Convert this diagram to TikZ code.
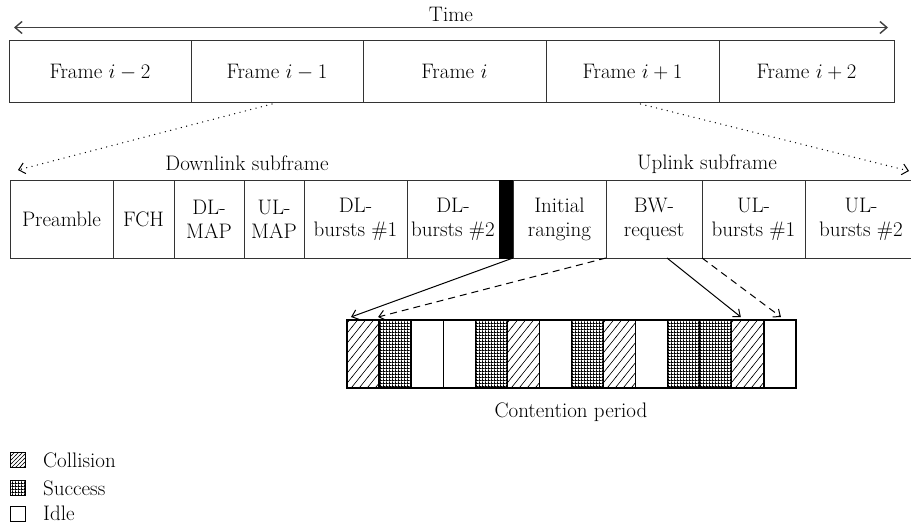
\documentclass[tikz,border=0pt]{standalone}
\usetikzlibrary{arrows.meta,patterns,calc}
\pgfdeclarepatternformonly{densegrid}{\pgfqpoint{0pt}{0pt}}{\pgfqpoint{3.2pt}{3.2pt}}{\pgfqpoint{3.2pt}{3.2pt}}{%
  \pgfpathrectangle{\pgfqpoint{0pt}{0pt}}{\pgfqpoint{3.2pt}{1.05pt}}%
  \pgfpathrectangle{\pgfqpoint{0pt}{0pt}}{\pgfqpoint{1.05pt}{3.2pt}}%
  \pgfusepath{fill}}
\pgfdeclarepatternformonly{widehatch}{\pgfqpoint{-1pt}{-1pt}}{\pgfqpoint{9pt}{11pt}}{\pgfqpoint{8pt}{10pt}}{%
  \pgfsetlinewidth{0.6pt}%
  \pgfpathmoveto{\pgfqpoint{-0.8pt}{-1pt}}\pgfpathlineto{\pgfqpoint{8.8pt}{11pt}}%
  \pgfusepath{stroke}}
\pgfdeclarepatternformonly{smallhatch}{\pgfqpoint{-1pt}{-1pt}}{\pgfqpoint{5pt}{5pt}}{\pgfqpoint{4pt}{4pt}}{%
  \pgfsetlinewidth{0.5pt}%
  \pgfpathmoveto{\pgfqpoint{-0.5pt}{-0.5pt}}\pgfpathlineto{\pgfqpoint{4.5pt}{4.5pt}}%
  \pgfusepath{stroke}}
\begin{document}
\begin{tikzpicture}[x=1pt,y=-1pt,
  font=\fontsize{21}{24}\selectfont,
  framebox/.style={draw=black!80, line width=1pt, minimum height=62.5pt, inner sep=0pt, outer sep=0pt, anchor=north west},
  cellbox/.style={draw=black!80, line width=1pt, minimum height=78pt, inner sep=0pt, outer sep=0pt, anchor=north west, align=center},
  slotbox/.style={draw=black, line width=1.3pt, minimum height=68pt, minimum width=32.07pt, inner sep=0pt, outer sep=0pt, anchor=north west},
  slot-c/.style={slotbox, pattern=widehatch},
  slot-s/.style={slotbox, pattern=densegrid},
  slot-i/.style={slotbox},
  legbox/.style={draw=black, line width=0.9pt, minimum width=15pt, minimum height=15pt, inner sep=0pt},
  timearrow/.style={draw=black!75, line width=1.4pt, {Straight Barb[length=7pt,width=12pt]}-{Straight Barb[length=7pt,width=12pt]}},
  dotarrow/.style={draw=black, line width=1.4pt, dash pattern=on 0.01pt off 5.5pt, line cap=round, -{Straight Barb[length=6pt,width=11pt,line width=1pt]}},
  solidarr/.style={draw=black, line width=1pt, -{Straight Barb[length=6pt,width=10pt]}},
  dasharr/.style={draw=black, line width=1pt, dash pattern=on 7pt off 5pt, -{Straight Barb[length=6pt,width=10pt]}}
]
\useasboundingbox (0,0) rectangle (911,527);

% time axis
\coordinate (tl) at (14,27.5);
\coordinate (tr) at (888,27.5);
\draw[timearrow] (tl) -- (tr);
\node (time) at (451,14) {Time};

% frames
\node[framebox, minimum width=182pt] (f1) at (9,40.5) {Frame $i-2$};
\node[framebox, minimum width=172pt] (f2) at (191,40.5) {Frame $i-1$};
\node[framebox, minimum width=183pt] (f3) at (363,40.5) {Frame $i$};
\node[framebox, minimum width=173pt] (f4) at (546,40.5) {Frame $i+1$};
\node[framebox, minimum width=175pt] (f5) at (719,40.5) {Frame $i+2$};

% subframe row
\node[cellbox, minimum width=103pt] (pre) at (10,180) {Preamble};
\node[cellbox, minimum width=61pt] (fch) at (113,180) {FCH};
\node[cellbox, minimum width=70pt] (dlmap) at (174,180) {DL-\\MAP};
\node[cellbox, minimum width=60pt] (ulmap) at (244,180) {UL-\\MAP};
\node[cellbox, minimum width=103pt] (dlb1) at (304,180) {DL-\\bursts \#1};
\node[cellbox, minimum width=92pt] (dlb2) at (407,180) {DL-\\bursts \#2};
\node[cellbox, minimum width=14pt, fill=black, draw=black] (bar) at (499,180) {};
\node[cellbox, minimum width=93pt] (ir) at (513,180) {Initial\\ranging};
\node[cellbox, minimum width=96pt] (bw) at (606,180) {BW-\\request};
\node[cellbox, minimum width=103pt] (ulb1) at (702,180) {UL-\\bursts \#1};
\node[cellbox, minimum width=112pt, draw=none] (ulb2) at (805,180) {UL-\\bursts \#2};
\coordinate (rowtr) at (911,180);
\coordinate (rowbr) at (911,258);
\draw[draw=black!80, line width=1pt] (ulb1.north east) -- (rowtr);
\draw[draw=black!80, line width=1pt] (ulb1.south east) -- (rowbr);

\node (dl) at (247,163) {Downlink subframe};
\node (ul) at (707,164) {Uplink subframe};

% zoom (dotted) arrows
\coordinate (dlend) at (18,170);
\coordinate (ulend) at (909,171);
\draw[dotarrow] ($(f2.south)+(-5,1)$) -- (dlend);
\draw[dotarrow] ($(f4.south)+(8,1)$) -- (ulend);

% contention slots
\foreach \t [count=\i] in {c,s,i,i,s,c,i,s,c,i,s,s,c,i}{
  \node[slot-\t] (s\i) at ({347+(\i-1)*32.07},320) {};
}
\node (cp) at (571,412) {Contention period};

% connectors to slots
\draw[solidarr] (bar.south east) -- ($(s1.north west)+(4,-3)$);
\draw[dasharr] (ir.south east) -- ($(s1.north east)+(-1,-3)$);
\draw[solidarr] ($(bw.south)+(13,0)$) -- ($(s13.north west)+(9,-3)$);
\draw[dasharr] (bw.south east) -- ($(s14.north)+(1,-3)$);

% legend
\node[legbox, pattern=smallhatch] (lgc) at (17.5,460) {};
\node[legbox, pattern=densegrid] (lgs) at (17.5,488) {};
\node[legbox] (lgi) at (17.5,514) {};
\node[anchor=west, inner sep=0pt] (lgct) at (43,460) {Collision};
\node[anchor=west, inner sep=0pt] (lgst) at (43,488) {Success};
\node[anchor=west, inner sep=0pt] (lgit) at (43,513) {Idle};
\end{tikzpicture}
\end{document}
